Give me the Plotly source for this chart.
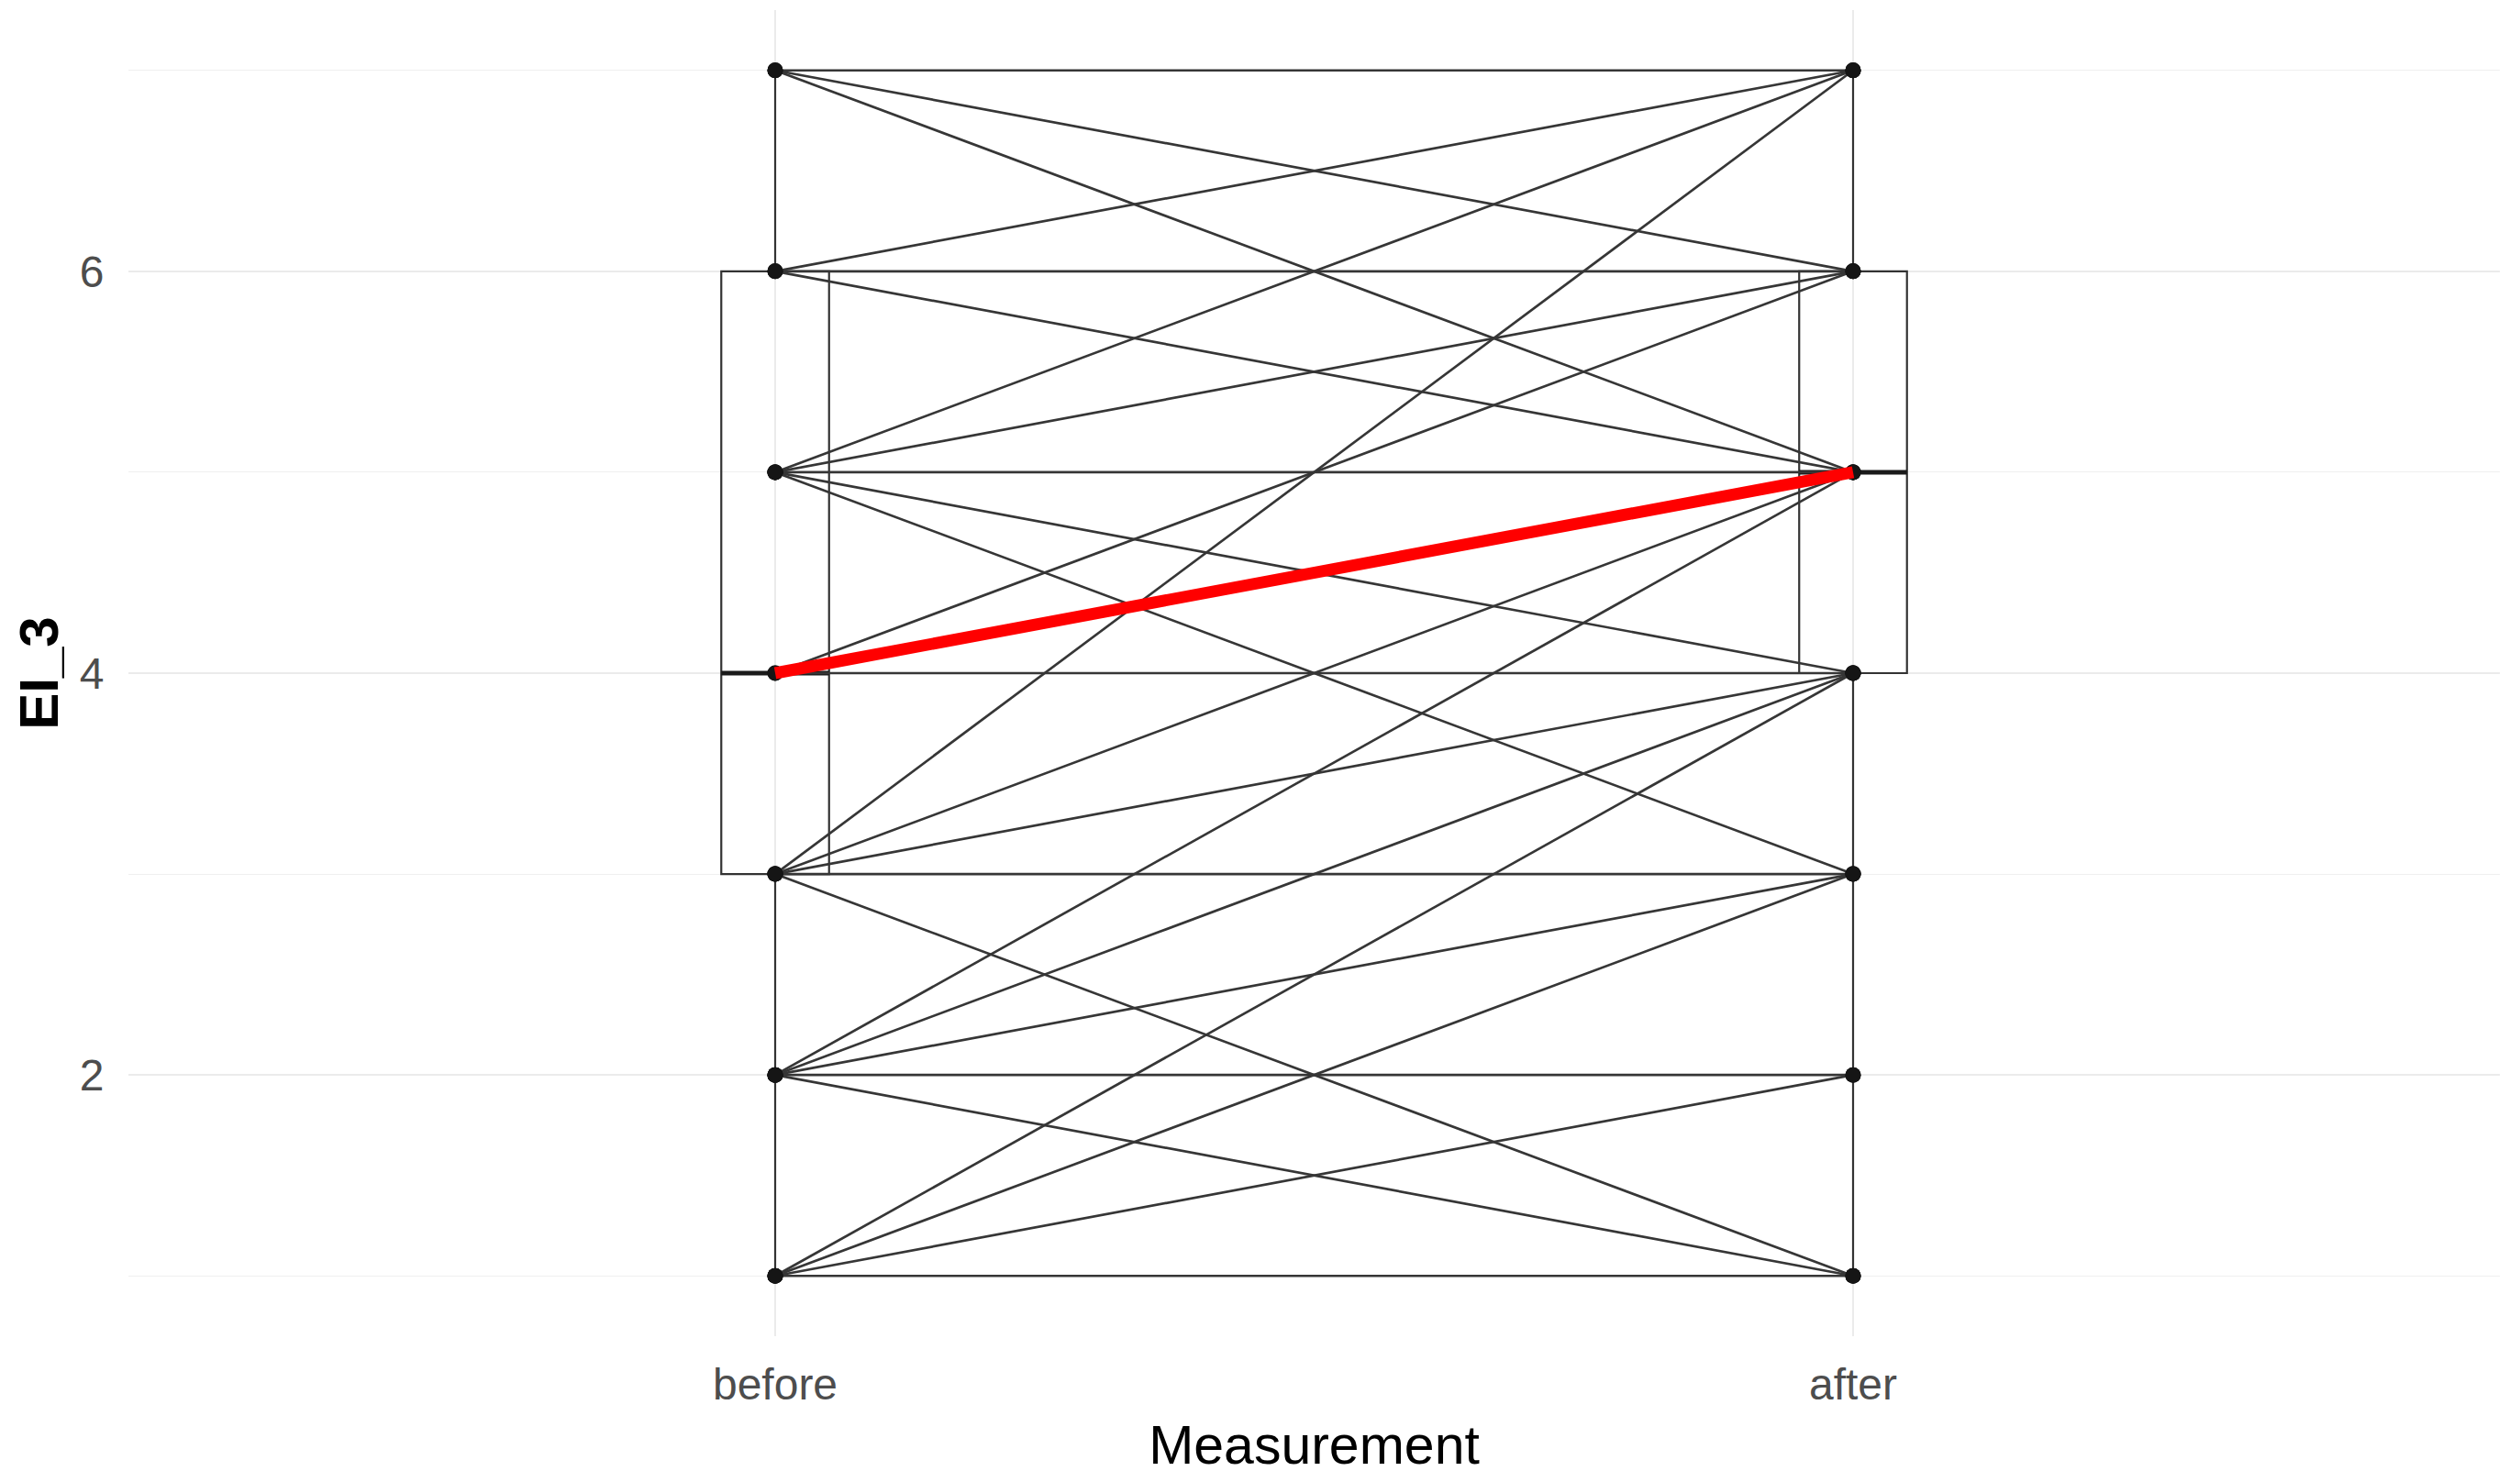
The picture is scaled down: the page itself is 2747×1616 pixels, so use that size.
import plotly.graph_objects as go

# ---- data ----
categories = ["before", "after"]
cat_pos = [1, 2]
before_vals = [7, 7, 7, 6, 6, 6, 5, 5, 5, 5, 5, 4, 4, 3, 3, 3, 3, 3, 2, 2, 2, 2, 2, 1, 1, 1, 1]
after_vals  = [7, 6, 5, 7, 6, 5, 7, 6, 5, 4, 3, 6, 4, 7, 5, 4, 3, 1, 5, 4, 3, 2, 1, 4, 3, 2, 1]
box_q1 = [3, 4]
box_median = [4, 5]
box_q3 = [6, 6]
box_lower = [1, 1]
box_upper = [7, 7]
y_ticks = [2, 4, 6]

BOX_W = 0.1
line_col = "#363636"

fig = go.Figure()

# boxplots
for i, c in enumerate(categories):
    fig.add_trace(go.Box(
        x=[cat_pos[i]], q1=[box_q1[i]], median=[box_median[i]], q3=[box_q3[i]],
        lowerfence=[box_lower[i]], upperfence=[box_upper[i]],
        width=BOX_W, whiskerwidth=0, fillcolor="rgba(0,0,0,0)",
        line=dict(color="#333333", width=2.2), boxpoints=False,
        showlegend=False, hoverinfo="skip"))
    # thicker median (ggplot fatten)
    fig.add_trace(go.Scatter(
        x=[cat_pos[i] - BOX_W / 2, cat_pos[i] + BOX_W / 2],
        y=[box_median[i], box_median[i]], mode="lines",
        line=dict(color="#1a1a1a", width=5), showlegend=False, hoverinfo="skip"))

# paired lines
lx, ly = [], []
for b, a in zip(before_vals, after_vals):
    lx += [cat_pos[0], cat_pos[1], None]
    ly += [b, a, None]
fig.add_trace(go.Scatter(x=lx, y=ly, mode="lines",
                         line=dict(color=line_col, width=2.7),
                         showlegend=False, hoverinfo="skip"))

# points
fig.add_trace(go.Scatter(
    x=[cat_pos[0]] * len(before_vals) + [cat_pos[1]] * len(after_vals),
    y=before_vals + after_vals, mode="markers",
    marker=dict(color="#151515", size=17), showlegend=False, hoverinfo="skip"))

# median connection line
fig.add_trace(go.Scatter(x=cat_pos, y=box_median, mode="lines",
                         line=dict(color="#ff0000", width=13),
                         showlegend=False, hoverinfo="skip"))

fig.update_layout(
    width=2747, height=1616,
    margin=dict(l=132, r=30, t=3, b=167),
    paper_bgcolor="white", plot_bgcolor="white",
    font=dict(family="Liberation Sans, Arial, sans-serif"),
    xaxis=dict(
        range=[0.4, 2.6], tickvals=cat_pos, ticktext=categories,
        showgrid=True, gridcolor="#ebebeb", gridwidth=2.2, zeroline=False,
        showline=False, ticks="outside", ticklen=10, tickcolor="rgba(0,0,0,0)",
        tickfont=dict(size=48, color="#4d4d4d"),
        title=dict(text="Measurement", font=dict(size=59, color="black"), standoff=20)),
    yaxis=dict(
        range=[0.7, 7.3], tickvals=y_ticks, ticktext=[str(v) for v in y_ticks],
        showgrid=True, gridcolor="#ebebeb", gridwidth=2.2, zeroline=False,
        minor=dict(dtick=1, tick0=1, showgrid=True, gridcolor="#f0f0f0", gridwidth=1.4),
        showline=False, ticks="outside", ticklen=16, tickcolor="rgba(0,0,0,0)",
        tickfont=dict(size=48, color="#4d4d4d"),
        title=dict(text="<b>EI_3</b>", font=dict(size=60, color="black"), standoff=3)),
)

fig.write_html("out.html")
